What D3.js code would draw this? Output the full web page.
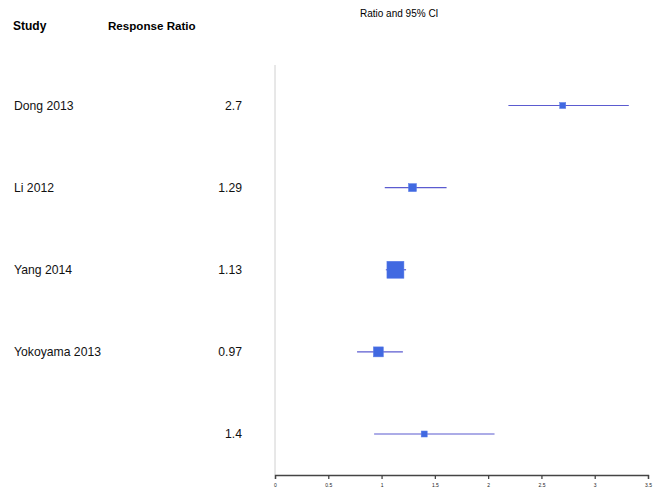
<!DOCTYPE html>
<html><head><meta charset="utf-8">
<script src="https://cdn.jsdelivr.net/npm/d3@7"></script>
<style>body{margin:0;background:#fff}svg{display:block}text{font-family:"Liberation Sans",Arial,sans-serif}</style>
</head><body><svg id="c" width="653" height="493"></svg>
<script>
const studies = ["Dong 2013", "Li 2012", "Yang 2014", "Yokoyama 2013", ""];
const ratios = [2.7, 1.29, 1.13, 0.97, 1.4];
const lower = [2.19, 1.03, 1.04, 0.77, 0.93];
const upper = [3.32, 1.61, 1.23, 1.20, 2.06];
const weights = [7.4, 13.1, 59.1, 20.4, 7.4];
const ratioLabels = ["2.7", "1.29", "1.13", "0.97", "1.4"];
const xTicks = [0, 0.5, 1, 1.5, 2, 2.5, 3, 3.5];

const svg = d3.select("#c");
const x = d3.scaleLinear().domain([0, 3.5]).range([275, 648]);
const y = d3.scalePoint().domain(d3.range(studies.length)).range([105.5, 434]);
const size = d3.scaleSqrt().domain([0, d3.max(weights)]).range([0, 17]);

// headers
svg.append("text").attr("x", 13).attr("y", 29.5).attr("font-weight", "bold").attr("font-size", 12).text("Study");
svg.append("text").attr("x", 108).attr("y", 29.5).attr("font-weight", "bold").attr("font-size", 11.6).text("Response Ratio");
svg.append("text").attr("x", 360).attr("y", 17).attr("font-size", 10).text("Ratio and 95% CI");

// vertical reference line
svg.append("line").attr("x1", x(0)).attr("x2", x(0)).attr("y1", 65).attr("y2", 475)
  .attr("stroke", "#d0d0d0").attr("stroke-width", 1);

// axis
const axis = d3.axisBottom(x).tickValues(xTicks).tickSize(4).tickFormat(d3.format("~g"));
const ag = svg.append("g").attr("transform", "translate(0,475)").call(axis);
ag.select(".domain").attr("stroke", "#444").attr("stroke-width", 1.3);
ag.selectAll(".tick line").attr("stroke", "#444").attr("stroke-width", 1.3);
ag.selectAll(".tick text").attr("font-size", 5).attr("fill", "#222").attr("y", 8);

const rows = svg.append("g").selectAll("g").data(studies.map((s, i) => i)).join("g");
rows.append("text").attr("x", 14).attr("y", i => y(i)).attr("dy", "0.35em").attr("font-size", 12.2).attr("fill", "#111")
  .text(i => studies[i]);
rows.append("text").attr("x", 242).attr("y", i => y(i)).attr("dy", "0.35em").attr("font-size", 12.2).attr("fill", "#111")
  .attr("text-anchor", "end").text(i => ratioLabels[i]);
rows.append("line").attr("x1", i => x(lower[i])).attr("x2", i => x(upper[i]))
  .attr("y1", i => y(i)).attr("y2", i => y(i)).attr("stroke", "#5b5bd0").attr("stroke-width", 1.2);
rows.append("rect").attr("x", i => x(ratios[i]) - size(weights[i]) / 2).attr("y", i => y(i) - size(weights[i]) / 2)
  .attr("width", i => size(weights[i])).attr("height", i => size(weights[i]))
  .attr("fill", "#4169e1").attr("stroke", "#5b7de8").attr("stroke-width", 0.5);
</script></body></html>
